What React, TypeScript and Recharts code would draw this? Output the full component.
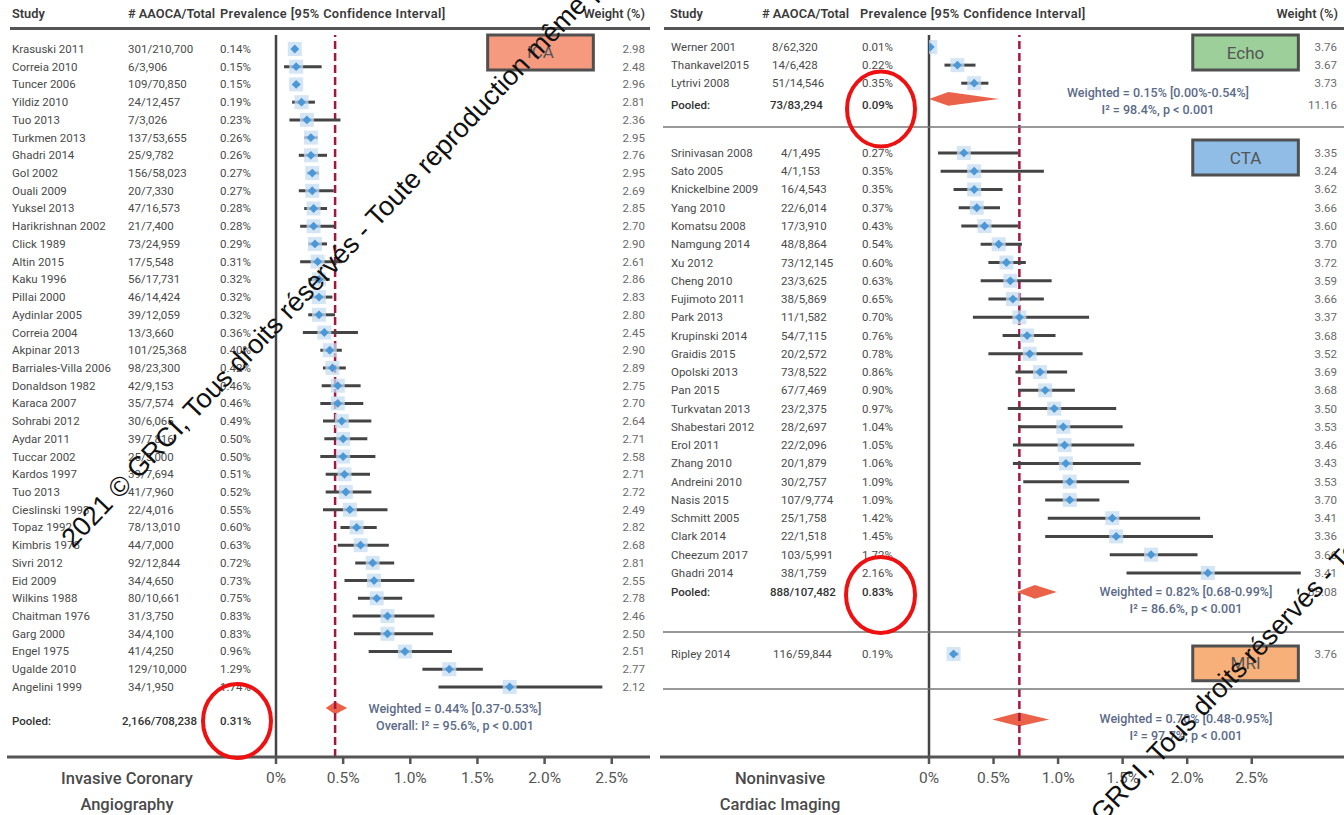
import React from 'react'
import {
  ComposedChart, Scatter, ErrorBar, Area, XAxis, YAxis,
  ReferenceLine, ReferenceArea
} from 'recharts'

// ---- Invasive coronary angiography (left panel) ----
const icaStudies = [
  'Krasuski 2011', 'Correia 2010', 'Tuncer 2006', 'Yildiz 2010', 'Tuo 2013', 'Turkmen 2013',
  'Ghadri 2014', 'Gol 2002', 'Ouali 2009', 'Yuksel 2013', 'Harikrishnan 2002', 'Click 1989',
  'Altin 2015', 'Kaku 1996', 'Pillai 2000', 'Aydinlar 2005', 'Correia 2004', 'Akpinar 2013',
  'Barriales-Villa 2006', 'Donaldson 1982', 'Karaca 2007', 'Sohrabi 2012', 'Aydar 2011',
  'Tuccar 2002', 'Kardos 1997', 'Tuo 2013', 'Cieslinski 1993', 'Topaz 1992', 'Kimbris 1978',
  'Sivri 2012', 'Eid 2009', 'Wilkins 1988', 'Chaitman 1976', 'Garg 2000', 'Engel 1975',
  'Ugalde 2010', 'Angelini 1999'
]
const icaCounts = [
  '301/210,700', '6/3,906', '109/70,850', '24/12,457', '7/3,026', '137/53,655', '25/9,782',
  '156/58,023', '20/7,330', '47/16,573', '21/7,400', '73/24,959', '17/5,548', '56/17,731',
  '46/14,424', '39/12,059', '13/3,660', '101/25,368', '98/23,300', '42/9,153', '35/7,574',
  '30/6,065', '39/7,816', '25/5,000', '39/7,694', '41/7,960', '22/4,016', '78/13,010',
  '44/7,000', '92/12,844', '34/4,650', '80/10,661', '31/3,750', '34/4,100', '41/4,250',
  '129/10,000', '34/1,950'
]
const icaPrev = [
  0.14, 0.15, 0.15, 0.19, 0.23, 0.26, 0.26, 0.27, 0.27, 0.28, 0.28, 0.29, 0.31, 0.32, 0.32,
  0.32, 0.36, 0.40, 0.42, 0.46, 0.46, 0.49, 0.50, 0.50, 0.51, 0.52, 0.55, 0.60, 0.63, 0.72,
  0.73, 0.75, 0.83, 0.83, 0.96, 1.29, 1.74
]
const icaLow = [
  0.13, 0.06, 0.13, 0.12, 0.10, 0.21, 0.17, 0.23, 0.17, 0.21, 0.18, 0.24, 0.18, 0.24, 0.25,
  0.24, 0.20, 0.33, 0.35, 0.34, 0.33, 0.35, 0.36, 0.33, 0.37, 0.37, 0.35, 0.48, 0.46, 0.59,
  0.51, 0.61, 0.57, 0.58, 0.69, 1.09, 1.21
]
const icaHigh = [
  0.16, 0.34, 0.18, 0.29, 0.48, 0.31, 0.38, 0.32, 0.43, 0.38, 0.44, 0.38, 0.49, 0.40, 0.42,
  0.44, 0.61, 0.49, 0.52, 0.63, 0.65, 0.71, 0.68, 0.74, 0.70, 0.71, 0.83, 0.75, 0.84, 0.88,
  1.03, 0.94, 1.18, 1.17, 1.31, 1.54, 2.43
]
const icaWeights = [
  2.98, 2.48, 2.96, 2.81, 2.36, 2.95, 2.76, 2.95, 2.69, 2.85, 2.70, 2.90, 2.61, 2.86, 2.83,
  2.80, 2.45, 2.90, 2.89, 2.75, 2.70, 2.64, 2.71, 2.58, 2.71, 2.72, 2.49, 2.82, 2.68, 2.81,
  2.55, 2.78, 2.46, 2.50, 2.51, 2.77, 2.12
]
const icaPooled = ['2,166/708,238', '0.31%']
const icaSummary = [0.37, 0.44, 0.53]

// ---- Noninvasive cardiac imaging (right panel) ----
const echoStudies = ['Werner 2001', 'Thankavel2015', 'Lytrivi 2008']
const echoCounts = ['8/62,320', '14/6,428', '51/14,546']
const echoPrev = [0.01, 0.22, 0.35]
const echoLow = [0.005, 0.12, 0.25]
const echoHigh = [0.02, 0.36, 0.46]
const echoWeights = [3.76, 3.67, 3.73]
const echoPooled = ['73/83,294', '0.09%', '11.16']
const echoSummary = [0.0, 0.15, 0.54]

const ctaStudies = [
  'Srinivasan 2008', 'Sato 2005', 'Knickelbine 2009', 'Yang 2010', 'Komatsu 2008',
  'Namgung 2014', 'Xu 2012', 'Cheng 2010', 'Fujimoto 2011', 'Park 2013', 'Krupinski 2014',
  'Graidis 2015', 'Opolski 2013', 'Pan 2015', 'Turkvatan 2013', 'Shabestari 2012', 'Erol 2011',
  'Zhang 2010', 'Andreini 2010', 'Nasis 2015', 'Schmitt 2005', 'Clark 2014', 'Cheezum 2017',
  'Ghadri 2014'
]
const ctaCounts = [
  '4/1,495', '4/1,153', '16/4,543', '22/6,014', '17/3,910', '48/8,864', '73/12,145', '23/3,625',
  '38/5,869', '11/1,582', '54/7,115', '20/2,572', '73/8,522', '67/7,469', '23/2,375', '28/2,697',
  '22/2,096', '20/1,879', '30/2,757', '107/9,774', '25/1,758', '22/1,518', '103/5,991', '38/1,759'
]
const ctaPrev = [
  0.27, 0.35, 0.35, 0.37, 0.43, 0.54, 0.60, 0.63, 0.65, 0.70, 0.76, 0.78, 0.86, 0.90, 0.97,
  1.04, 1.05, 1.06, 1.09, 1.09, 1.42, 1.45, 1.72, 2.16
]
const ctaLow = [
  0.07, 0.09, 0.19, 0.23, 0.25, 0.40, 0.46, 0.40, 0.46, 0.34, 0.57, 0.46, 0.67, 0.69, 0.61,
  0.69, 0.65, 0.65, 0.73, 0.90, 0.92, 0.90, 1.40, 1.53
]
const ctaHigh = [
  0.69, 0.89, 0.57, 0.55, 0.69, 0.72, 0.75, 0.95, 0.89, 1.24, 0.98, 1.19, 1.07, 1.13, 1.45,
  1.50, 1.59, 1.64, 1.55, 1.32, 2.10, 2.20, 2.08, 2.88
]
const ctaWeights = [
  3.35, 3.24, 3.62, 3.66, 3.60, 3.70, 3.72, 3.59, 3.66, 3.37, 3.68, 3.52, 3.69, 3.68, 3.50,
  3.53, 3.46, 3.43, 3.53, 3.70, 3.41, 3.36, 3.66, 3.41
]
const ctaPooled = ['888/107,482', '0.83%', '85.08']
const ctaSummary = [0.68, 0.82, 0.99]

const mriStudies = ['Ripley 2014']
const mriCounts = ['116/59,844']
const mriPrev = [0.19]
const mriLow = [0.16]
const mriHigh = [0.23]
const mriWeights = [3.76]

const overallSummary = [0.49, 0.70, 0.93]
const xTicks = [0, 0.5, 1, 1.5, 2, 2.5]

// ---- layout ----
const TOP = 35
const X_AXIS_H = 58
const H = 815
const FONT = 'Roboto, sans-serif'
const TEXT = '#4a4a4a'
const NOTE = '#5b6b88'
const DIAMOND = '#ea6249'

type Row = { y: number; name: string; count: string; countX: number; prev: string; weight: string; pooled?: boolean }

const pct = (v: number) => `${v.toFixed(2)}%`

function studyRows(names: string[], counts: string[], prev: number[], weights: number[], y0: number, step: number, countX: number): Row[] {
  return names.map((n, i) => ({
    y: y0 + i * step, name: n, count: counts[i], countX, prev: pct(prev[i]), weight: weights[i].toFixed(2)
  }))
}

function points(prev: number[], low: number[], high: number[], y0: number, step: number) {
  return prev.map((p, i) => ({ x: p, y: y0 + i * step, err: [p - low[i], high[i] - p] }))
}

function diamond([lo, mid, hi]: number[], y: number, h: number) {
  return [
    { x: lo, band: [y, y] },
    { x: mid, band: [y - h, y + h] },
    { x: hi, band: [y, y] },
  ]
}

function PointMark(props: any) {
  const { cx, cy } = props
  if (cx == null || cy == null) return null
  const s = 4.4
  return (
    <g>
      <rect x={cx - 7} y={cy - 7} width={14} height={14} fill="#c6dcf1" fillOpacity={0.75} />
      <polygon points={`${cx - s},${cy} ${cx},${cy - s} ${cx + s},${cy} ${cx},${cy + s}`} fill="#4a98d8" />
    </g>
  )
}

function makeTick(rows: Row[], cols: { name: number; prev: number; weight: number }) {
  return (props: any) => {
    const { y, payload } = props
    const row = rows.find(r => Math.abs(r.y - payload.value) < 1e-6)
    if (!row) return <g />
    const base = { fontFamily: FONT, fontSize: 11.5, dominantBaseline: 'central' as const }
    const fill = row.pooled ? '#333' : TEXT
    const fw = row.pooled ? 500 : 400
    return (
      <g>
        <text x={cols.name} y={y} {...base} fill={fill} fontWeight={fw}>{row.name}</text>
        <text x={row.countX} y={y} {...base} fill={fill} fontWeight={fw}>{row.count}</text>
        <text x={cols.prev} y={y} {...base} fill={fill} fontWeight={fw}>{row.prev}</text>
        {row.weight && <text x={cols.weight} y={y} {...base} fill="#6a6a6a" textAnchor="end">{row.weight}</text>}
      </g>
    )
  }
}

const tickFmt = (v: number) => (v === 0 ? '0%' : `${v.toFixed(1)}%`)

// left panel geometry
const L_W = 660, L_AXIS = 276, L_PX = 134.3, L_ROW = 17.72
const L_XMAX = (L_W - L_AXIS) / L_PX
const L_YMAX = (H - TOP - X_AXIS_H) / L_ROW
const L_Y0 = 0.79
const L_LAST = L_Y0 + icaStudies.length - 1
const L_POOL_LABEL = L_LAST + 1.92
const L_POOL_DIAMOND = L_LAST + 1.19

// right panel geometry
const R_LEFT = 660, R_W = 684, R_AXIS = 269, R_PX = 129.1, R_ROW = 18.26
const R_XMAX = (R_W - R_AXIS) / R_PX
const R_YMAX = (H - TOP - X_AXIS_H) / R_ROW
const ECHO_Y0 = 0.66
const ECHO_POOL = 3.83
const ECHO_DIAMOND = 3.5
const CTA_Y0 = 6.46
const CTA_POOL = CTA_Y0 + ctaStudies.length + 0.04
const MRI_Y0 = 33.9
const OVERALL_Y = 37.48

const leftRows: Row[] = [
  ...studyRows(icaStudies, icaCounts, icaPrev, icaWeights, L_Y0, 1, 128),
  { y: L_POOL_LABEL, name: 'Pooled:', count: icaPooled[0], countX: 122, prev: icaPooled[1], weight: '', pooled: true },
]
const rightRows: Row[] = [
  ...studyRows(echoStudies, echoCounts, echoPrev, echoWeights, ECHO_Y0, 0.99, 112),
  { y: ECHO_POOL, name: 'Pooled:', count: echoPooled[0], countX: 110, prev: echoPooled[1], weight: echoPooled[2], pooled: true },
  ...studyRows(ctaStudies, ctaCounts, ctaPrev, ctaWeights, CTA_Y0, 1, 121),
  { y: CTA_POOL, name: 'Pooled:', count: ctaPooled[0], countX: 110, prev: ctaPooled[1], weight: ctaPooled[2], pooled: true },
  ...studyRows(mriStudies, mriCounts, mriPrev, mriWeights, MRI_Y0, 1, 113),
]

const icaPoints = points(icaPrev, icaLow, icaHigh, L_Y0, 1)
const echoPoints = points(echoPrev, echoLow, echoHigh, ECHO_Y0, 0.99)
const ctaPoints = points(ctaPrev, ctaLow, ctaHigh, CTA_Y0, 1)
const mriPoints = points(mriPrev, mriLow, mriHigh, MRI_Y0, 1)

const axisTick = { fill: '#555', fontSize: 15.5, fontFamily: 'Roboto, sans-serif' }
const boxLabel = (value: string) => ({ value, position: 'center' as const, fill: '#555', fontSize: 17, fontFamily: 'Roboto, sans-serif' })

function Panel(props: {
  width: number; axisW: number; xMax: number; yMax: number; rows: Row[]
  cols: { name: number; prev: number; weight: number }; children: React.ReactNode
}) {
  const { width, axisW, xMax, yMax, rows, cols, children } = props
  return (
    <ComposedChart width={width} height={H} margin={{ top: TOP, right: 0, bottom: 0, left: 0 }}>
      <XAxis
        type="number" dataKey="x" domain={[0, xMax]} allowDataOverflow ticks={xTicks} interval={0}
        tickFormatter={tickFmt} axisLine={false} tickLine={{ stroke: '#555', strokeWidth: 2.5 }}
        tickSize={7} tickMargin={8} tick={axisTick} height={X_AXIS_H}
      />
      <YAxis
        type="number" dataKey="y" domain={[0, yMax]} allowDataOverflow reversed
        ticks={rows.map(r => r.y)} interval={0} width={axisW}
        axisLine={{ stroke: '#444', strokeWidth: 2.5 }} tickLine={false}
        tick={makeTick(rows, cols)}
      />
      {children}
    </ComposedChart>
  )
}

export default function App() {
  const note = { fontFamily: 'Roboto, sans-serif', fontSize: 12.5, fill: NOTE, fontWeight: 500, textAnchor: 'middle' as const, dominantBaseline: 'central' as const }
  const head = { fontFamily: FONT, fontSize: 12.8, fill: '#3a3a3a', fontWeight: 600, dominantBaseline: 'central' as const }
  const title = { fontFamily: 'Roboto, sans-serif', fontSize: 16.5, fill: '#4a4a4a', fontWeight: 500, textAnchor: 'middle' as const, dominantBaseline: 'central' as const }
  const mark = "2021 © GRCI, Tous droits réservés - Toute reproduction même partielle interdite"
  const wm = { fontFamily: "'Liberation Sans', Arial, sans-serif", fontSize: 27, fill: '#111' }
  return (
    <div style={{ position: 'absolute', left: 0, top: 0, width: 1344, height: H, background: '#fff', overflow: 'hidden' }}>
      <div style={{ position: 'absolute', left: 0, top: 0 }}>
        <Panel width={L_W} axisW={L_AXIS} xMax={L_XMAX} yMax={L_YMAX} rows={leftRows}
          cols={{ name: 12, prev: 220, weight: 645 }}>
          <ReferenceArea x1={1.576} x2={2.363} y1={0} y2={1.97} fill="#f59a7f" fillOpacity={1}
            stroke="#505050" strokeWidth={3} ifOverflow="visible" label={boxLabel('ICA')} />
          <ReferenceLine x={icaSummary[1]} stroke="#a3173f" strokeWidth={2.5} strokeDasharray="8 4" />
          <Scatter data={icaPoints} shape={PointMark} isAnimationActive={false}>
            <ErrorBar dataKey="err" direction="x" stroke="#444" strokeWidth={3} width={0} />
          </Scatter>
          <Area data={diamond(icaSummary, L_POOL_DIAMOND, 0.355)} dataKey="band" type="linear"
            fill={DIAMOND} fillOpacity={1} stroke="none" dot={false} activeDot={false} isAnimationActive={false} />
        </Panel>
      </div>
      <div style={{ position: 'absolute', left: R_LEFT, top: 0 }}>
        <Panel width={R_W} axisW={R_AXIS} xMax={R_XMAX} yMax={R_YMAX} rows={rightRows}
          cols={{ name: 11, prev: 202, weight: 677 }}>
          <ReferenceArea x1={2.043} x2={2.861} y1={0} y2={1.92} fill="#9ccf9a" fillOpacity={1}
            stroke="#505050" strokeWidth={3} ifOverflow="visible" label={boxLabel('Echo')} />
          <ReferenceArea x1={2.043} x2={2.861} y1={5.75} y2={7.67} fill="#8fbde6" fillOpacity={1}
            stroke="#505050" strokeWidth={3} ifOverflow="visible" label={boxLabel('CTA')} />
          <ReferenceArea x1={2.043} x2={2.861} y1={33.46} y2={35.36} fill="#f7b07a" fillOpacity={1}
            stroke="#505050" strokeWidth={3} ifOverflow="visible" label={boxLabel('MRI')} />
          <ReferenceLine x={overallSummary[1]} stroke="#a3173f" strokeWidth={2.5} strokeDasharray="8 4" />
          {[echoPoints, ctaPoints, mriPoints].map((pts, k) => (
            <Scatter key={k} data={pts} shape={PointMark} isAnimationActive={false}>
              <ErrorBar dataKey="err" direction="x" stroke="#444" strokeWidth={3} width={0} />
            </Scatter>
          ))}
          <Area data={diamond(echoSummary, ECHO_DIAMOND, 0.38)} dataKey="band" type="linear"
            fill={DIAMOND} fillOpacity={1} stroke="none" dot={false} activeDot={false} isAnimationActive={false} />
          <Area data={diamond(ctaSummary, CTA_POOL, 0.38)} dataKey="band" type="linear"
            fill={DIAMOND} fillOpacity={1} stroke="none" dot={false} activeDot={false} isAnimationActive={false} />
          <Area data={diamond(overallSummary, OVERALL_Y, 0.38)} dataKey="band" type="linear"
            fill={DIAMOND} fillOpacity={1} stroke="none" dot={false} activeDot={false} isAnimationActive={false} />
        </Panel>
      </div>
      <svg width={1344} height={H} style={{ position: 'absolute', left: 0, top: 0, pointerEvents: 'none' }}>
        {/* headers */}
        <text x={12} y={13} {...head}>Study</text>
        <text x={128} y={13} {...head}># AAOCA/Total</text>
        <text x={220} y={13} {...head} letterSpacing={0.35}>Prevalence [95% Confidence Interval]</text>
        <text x={645} y={13} {...head} textAnchor="end">Weight (%)</text>
        <text x={670} y={13} {...head}>Study</text>
        <text x={762} y={13} {...head}># AAOCA/Total</text>
        <text x={860} y={13} {...head} letterSpacing={0.35}>Prevalence [95% Confidence Interval]</text>
        <text x={1338} y={13} {...head} textAnchor="end">Weight (%)</text>
        {/* rules */}
        <line x1={10} x2={650} y1={28.5} y2={28.5} stroke="#555" strokeWidth={3} />
        <line x1={664} x2={1344} y1={28.5} y2={28.5} stroke="#555" strokeWidth={3} />
        <line x1={7} x2={650} y1={757} y2={757} stroke="#555" strokeWidth={3} />
        <line x1={660} x2={1344} y1={757} y2={757} stroke="#555" strokeWidth={3} />
        {[127, 632, 689].map(y => (
          <line key={y} x1={663} x2={1344} y1={y} y2={y} stroke="#777" strokeWidth={1.5} />
        ))}
        {/* summary notes */}
        <text x={455} y={708} {...note}>Weighted = 0.44% [0.37-0.53%]</text>
        <text x={455} y={725} {...note}>Overall: I² = 95.6%, p {'<'} 0.001</text>
        <text x={1158} y={92} {...note}>Weighted = 0.15% [0.00%-0.54%]</text>
        <text x={1158} y={109} {...note}>I² = 98.4%, p {'<'} 0.001</text>
        <text x={1186} y={591.5} {...note}>Weighted = 0.82% [0.68-0.99%]</text>
        <text x={1186} y={608} {...note}>I² = 86.6%, p {'<'} 0.001</text>
        <text x={1186} y={718} {...note}>Weighted = 0.70% [0.48-0.95%]</text>
        <text x={1186} y={735} {...note}>I² = 97.7%, p {'<'} 0.001</text>
        {/* bottom titles */}
        <text x={127} y={778} {...title}>Invasive Coronary</text>
        <text x={127} y={804} {...title}>Angiography</text>
        <text x={780} y={778} {...title}>Noninvasive</text>
        <text x={780} y={804} {...title}>Cardiac Imaging</text>
        {/* highlight circles */}
        <ellipse cx={237} cy={721} rx={34} ry={37} fill="none" stroke="#ee1111" strokeWidth={4} />
        <ellipse cx={881} cy={109} rx={34} ry={37.5} fill="none" stroke="#ee1111" strokeWidth={4} />
        <ellipse cx={880.5} cy={595} rx={34.5} ry={38} fill="none" stroke="#ee1111" strokeWidth={4} />
        {/* watermark */}
        <text x={73} y={549} transform="rotate(-46.5 73 549)" {...wm}>{mark}</text>
        <text x={1037} y={893} transform="rotate(-46.5 1037 893)" {...wm}>{mark}</text>
      </svg>
    </div>
  )
}
